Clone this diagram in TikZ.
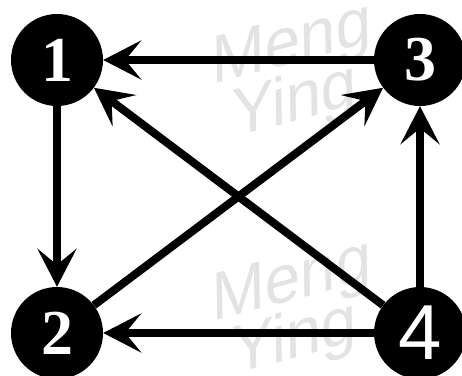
\documentclass[tikz,border=0pt]{standalone}
\usepackage{fontspec}
\setmainfont{Liberation Serif}
\newfontfamily\wmfont{Liberation Sans}
\newfontfamily\numserif{Liberation Serif}[UprightFont={* Bold}]
\usetikzlibrary{arrows.meta}
\begin{document}
\begin{tikzpicture}[x=1pt,y=-1pt,
  wm/.style={text=black!11, font=\wmfont\fontsize{66}{66}\selectfont, rotate=15, xslant=0.25, inner sep=0pt, anchor=base west},
  vert/.style={circle, fill=black, text=white, minimum size=92pt, inner sep=0pt},
  serifnum/.style={font=\numserif\fontsize{64}{64}\selectfont},
  sansnum/.style={font=\wmfont\fontsize{78}{78}\selectfont},
  edge/.style={line width=8pt, -{Stealth[length=38pt,width=39pt,inset=16pt]}}]
\useasboundingbox (0,0) rectangle (462,375);
\node[wm] (w1) at (212,85) {Meng};
\node[wm] (w2) at (232,138) {Ying};
\node[wm] (w3) at (212,322) {Meng};
\node[wm] (w4) at (232,375) {Ying};
\node[vert, serifnum] (n1) at (57,60) {1};
\node[vert, serifnum] (n3) at (420,60) {3};
\node[vert, serifnum] (n2) at (57,333) {2};
\node[vert, sansnum] (n4) at (420,333) {4};
\draw[edge] (n3) -- (n1);
\draw[edge] (n1) -- (n2);
\draw[edge] (n4) -- (n1);
\draw[edge] (n2) -- (n3);
\draw[edge] (n4) -- (n3);
\draw[edge] (n4) -- (n2);
\end{tikzpicture}
\end{document}
